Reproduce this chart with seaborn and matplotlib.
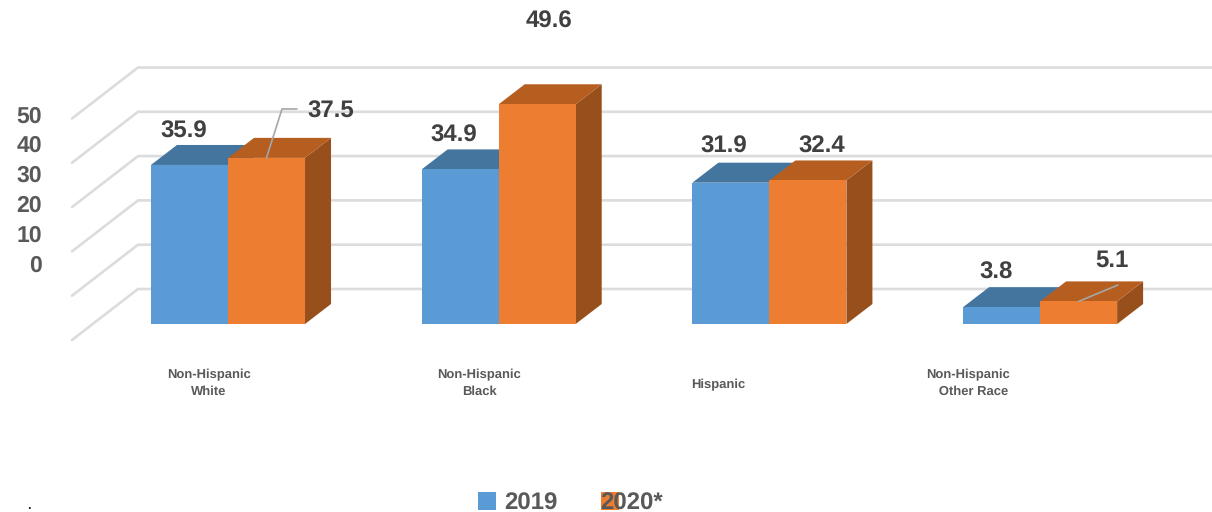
import matplotlib
matplotlib.use("Agg")
import matplotlib.pyplot as plt
from matplotlib.patches import Polygon
import pandas as pd
import seaborn as sns

# ---- data ----
groups = ["Non-Hispanic White", "Non-Hispanic Black", "Hispanic", "Non-Hispanic Other Race"]
group_labels = ["Non-Hispanic\nWhite", "Non-Hispanic\nBlack", "Hispanic", "Non-Hispanic\n   Other Race"]
rate_2019 = [35.9, 34.9, 31.9, 3.8]
rate_2020 = [37.5, 49.6, 32.4, 5.1]
years = ["2019", "2020*"]
grid_values = [0, 10, 20, 30, 40, 50]

# ---- style ----
W, H = 1212, 512
front_colors = ["#5B9BD5", "#ED7D31"]
top_colors = ["#44759F", "#B55E20"]
side_colors = ["#44759F", "#97501C"]
grid_color = "#DCDCDC"
leader_color = "#A6A6A6"
label_color = "#404040"
axis_color = "#595959"

sns.set_theme(style="white")
plt.rcParams["font.family"] = ["Liberation Sans", "DejaVu Sans"]
plt.rcParams["font.weight"] = "bold"
plt.rcParams["text.hinting"] = "no_hinting"
plt.rcParams["text.hinting_factor"] = 1

# layout: px -> data conversion for the full-figure axes
PX_PER_CAT = 270.7
PX_PER_UNIT = 4.43
X0, Y0 = 228.0, 324.0
def dx(p): return (p - X0) / PX_PER_CAT
def dy(p): return (Y0 - p) / PX_PER_UNIT

fig = plt.figure(figsize=(W / 100, H / 100), dpi=100)
ax = fig.add_axes([0, 0, 1, 1])
ax.patch.set_alpha(0)

df = pd.DataFrame({
    "Group": groups * 2,
    "Rate": rate_2019 + rate_2020,
    "Year": [years[0]] * len(groups) + [years[1]] * len(groups),
})
sns.barplot(data=df, x="Group", y="Rate", hue="Year", palette=front_colors, order=groups,
            hue_order=years, width=0.569, gap=0, saturation=1, dodge=True, ax=ax,
            linewidth=0, zorder=4, legend=True, errorbar=None)
handles, _ = ax.get_legend_handles_labels()
ax.get_legend().remove()

ax.set_xlim(dx(0), dx(W))
ax.set_ylim(dy(H), dy(0))

# receding gridlines
depth_front = (dx(72), dy(340))
depth_back = (dx(138), dy(289))
for v in grid_values:
    ax.plot([depth_front[0], depth_back[0], dx(W)],
            [v + depth_front[1], v + depth_back[1], v + depth_back[1]],
            color=grid_color, lw=1.9, zorder=1, solid_joinstyle="miter")

# 3-D extrusion, built from each drawn bar
bar_dx, bar_dy = 26 / PX_PER_CAT, 20 / PX_PER_UNIT
n = len(groups)
bars = [p for p in ax.patches if p.get_height() > 0]
for i, bar in enumerate(bars):
    s = 0 if i < n else 1
    x0, x1, h = bar.get_x(), bar.get_x() + bar.get_width(), bar.get_height()
    base_z = 2 if s == 0 else 3
    ax.add_patch(Polygon([(x1, 0), (x1 + bar_dx, bar_dy), (x1 + bar_dx, h + bar_dy), (x1, h)],
                         closed=True, fc=side_colors[s], ec="none", zorder=base_z))
    ax.add_patch(Polygon([(x0, h), (x0 + bar_dx, h + bar_dy), (x1 + bar_dx, h + bar_dy), (x1, h)],
                         closed=True, fc=top_colors[s], ec="none", zorder=base_z))
    bar.set_zorder(base_z + 0.5)

# value labels
all_vals = rate_2019 + rate_2020
label_px = [(184, 132), (454, 136), (724, 147), (996, 273),
            (331, 112), (549, 22), (822, 147), (1112, 261)]
for v, (px, py) in zip(all_vals, label_px):
    ax.text(dx(px), dy(py), f"{v:.1f}", ha="center", va="center",
            fontsize=17.3, fontweight="bold", color=label_color, zorder=6)

# leader lines
b_white, b_other = bars[n], bars[n + 3]
cx = b_white.get_x() + b_white.get_width() / 2
ax.plot([cx, dx(282), dx(297)], [b_white.get_height(), dy(109), dy(109)],
        color=leader_color, lw=1.2, zorder=6)
cx = b_other.get_x() + b_other.get_width() / 2
ax.plot([cx, dx(1118)], [b_other.get_height(), dy(285)],
        color=leader_color, lw=1.2, zorder=6)

# category labels (real x axis, offset from the bars as in the source)
for sp in ax.spines.values():
    sp.set_visible(False)
ax.set_xlabel("")
ax.set_ylabel("")
ax.set_yticks([])
ax.spines["bottom"].set_position(("data", dy(369)))
ax.tick_params(axis="x", length=0, pad=0, labelcolor=axis_color, labelsize=9.5)
ax.set_xticks([dx(209), dx(479), dx(718), dx(968)])
ax.set_xticklabels(group_labels, fontweight="bold", linespacing=1.45)
ax.xaxis.get_major_ticks()[2].set_pad(7)

# value axis, detached and compressed as in the source
yax = fig.add_axes([42 / W, 1 - 263 / H, 1 / W, 149 / H])
yax.patch.set_alpha(0)
yax.set_ylim(0, 50)
yax.tick_params(axis="y", length=0, pad=0, labelcolor=axis_color, labelsize=16.8)
yax.set_yticks(grid_values)
yax.set_yticklabels([str(v) for v in grid_values], fontweight="bold")
yax.set_xticks([])
for sp in yax.spines.values():
    sp.set_visible(False)

# legend: two entries, the second with its text overlapping its swatch
common = dict(loc="center left", frameon=False, borderpad=0, borderaxespad=0, handlelength=0.75,
              handleheight=0.82, prop={"weight": "bold", "size": 17.3}, labelcolor=axis_color)
leg1 = ax.legend([handles[0]], [years[0]], bbox_to_anchor=(478 / W, 1 - 503 / H),
                 handletextpad=0.33, **common)
ax.add_artist(leg1)
ax.legend([handles[1]], [years[1]], bbox_to_anchor=(601 / W, 1 - 503 / H),
          handletextpad=-0.8, **common)

# small mark at the bottom-left corner of the source
ax.text(dx(29), dy(H), ".", ha="center", va="bottom", fontsize=9, color="#222222")

fig.savefig("out.png", dpi=100)
